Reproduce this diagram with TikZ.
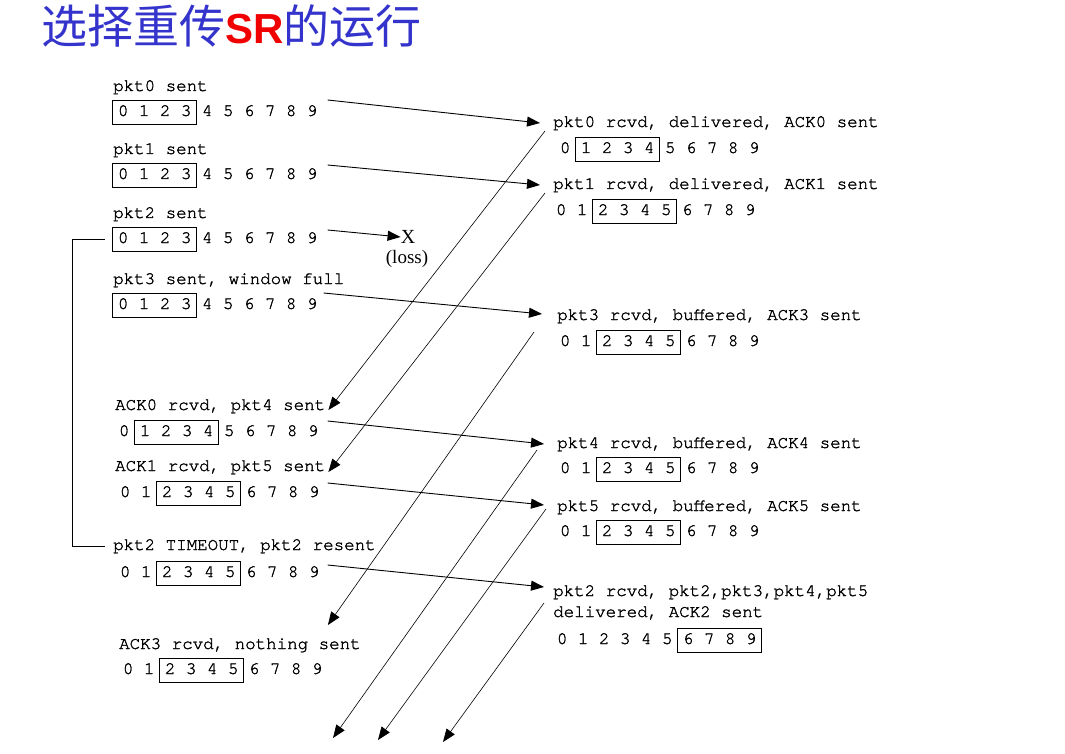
\documentclass[tikz,border=0pt]{standalone}
\usepackage{fontspec}
\usetikzlibrary{arrows.meta}
\newfontfamily\cjk{Noto Sans CJK SC}
\newfontfamily\titlesans{Liberation Sans}
\newfontfamily\serifnt{Liberation Serif}
\newfontfamily\monofnt[FakeBold=1.6]{texgyrecursor-regular.otf}
\definecolor{titleblue}{RGB}{52,52,204}
\definecolor{titlered}{RGB}{240,0,0}

\tikzset{
  evt/.style={anchor=west, inner sep=0pt, text height=11pt, text depth=3pt,
    font=\monofnt\fontsize{17.5}{20}\selectfont},
  pkt/.style={-{Triangle[length=13pt,width=10pt]}, line width=0.9pt},
  ack/.style={-{Triangle[length=13pt,width=10pt]}, line width=0.6pt},
}

% window row: name, x, y, first, last
\newcommand{\winrow}[5]{%
  \node[evt] (#1) at (#2,#3) {0 1 2 3 4 5 6 7 8 9};
  \draw[line width=0.8pt] ({#2+21*#4-5},{#3-12}) rectangle ({#2+21*#5+15.5},{#3+12});
}

\begin{document}
\begin{tikzpicture}[x=1pt, y=-1pt]
  \useasboundingbox (0,0) rectangle (1065,754);

  \node[anchor=base west, inner sep=0pt] (title) at (41,44)
    {\cjk\fontsize{46}{50}\selectfont\color{titleblue}选择重传{\titlesans\bfseries\fontsize{42}{46}\selectfont\color{titlered}SR}的运行};

  % sender
  \node[evt] (s0) at (113,87) {pkt0 sent};
  \winrow{w0}{117.75}{112}{0}{3}
  \node[evt] (s1) at (113,150) {pkt1 sent};
  \winrow{w1}{117.75}{175}{0}{3}
  \node[evt] (s2) at (113,214) {pkt2 sent};
  \winrow{w2}{117.75}{239}{0}{3}
  \node[evt] (s3) at (113,280) {pkt3 sent, window full};
  \winrow{w3}{117.75}{305}{0}{3}
  \node[evt] (s4) at (115,406) {ACK0 rcvd, pkt4 sent};
  \winrow{w4}{118.75}{432}{1}{4}
  \node[evt] (s5) at (115,467) {ACK1 rcvd, pkt5 sent};
  \winrow{w5}{119.75}{493}{2}{5}
  \node[evt] (s6) at (113,546) {pkt2 TIMEOUT, pkt2 resent};
  \winrow{w6}{119.75}{573}{2}{5}
  \node[evt] (s7) at (119,645) {ACK3 rcvd, nothing sent};
  \winrow{w7}{122.75}{670}{2}{5}

  % receiver
  \node[evt] (r0) at (553,123) {pkt0 rcvd, delivered, ACK0 sent};
  \winrow{v0}{559.75}{149}{1}{4}
  \node[evt] (r1) at (553,185) {pkt1 rcvd, delivered, ACK1 sent};
  \winrow{v1}{555.75}{211}{2}{5}
  \node[evt] (r3) at (557,316) {pkt3 rcvd, buffered, ACK3 sent};
  \winrow{v3}{559.75}{342}{2}{5}
  \node[evt] (r4) at (557,444) {pkt4 rcvd, buffered, ACK4 sent};
  \winrow{v4}{559.75}{469}{2}{5}
  \node[evt] (r5) at (557,507) {pkt5 rcvd, buffered, ACK5 sent};
  \winrow{v5}{559.75}{532}{2}{5}
  \node[evt] (r2) at (553,592) {pkt2 rcvd, pkt2,pkt3,pkt4,pkt5};
  \node[evt] (r2b) at (553,613) {delivered, ACK2 sent};
  \winrow{v2}{556.75}{640}{6}{9}

  % lost packet
  \node[inner sep=0pt, font=\serifnt\fontsize{20}{22}\selectfont] (x2) at (408,237) {X};
  \node[inner sep=0pt, font=\serifnt\fontsize{19}{22}\selectfont] (loss) at (407,259) {(loss)};

  % timeout bracket
  \draw[line width=0.8pt] ([xshift=-13pt]w2.west) -- ++(-32,0) |- ([xshift=-8pt]s6.west);

  % packets
  \draw[pkt] ([xshift=10pt,yshift=12pt]w0.east) -- ([xshift=-13pt]r0.west);
  \draw[pkt] ([xshift=10pt,yshift=10pt]w1.east) -- ([xshift=-13pt]r1.west);
  \draw[pkt] ([xshift=10pt,yshift=9pt]w2.east) -- (x2.west);
  \draw[pkt] ([xshift=6pt,yshift=12pt]w3.east) -- ([xshift=-15pt,yshift=2pt]r3.west);
  \draw[pkt] ([xshift=9pt,yshift=11pt]w4.east) -- ([xshift=-13pt]r4.west);
  \draw[pkt] ([xshift=8pt,yshift=10pt]w5.east) -- ([xshift=-13pt,yshift=2pt]r5.west);
  \draw[pkt] ([xshift=8pt,yshift=8pt]w6.east) -- ([xshift=-9pt,yshift=5pt]r2.west);

  % acks
  \coordinate (a4) at (333,738);
  \coordinate (a5) at (378,740);
  \coordinate (a2) at (443,742);
  \draw[ack] ([xshift=-8pt,yshift=-8pt]r0.west) -- ([xshift=3pt,yshift=-4pt]s4.east);
  \draw[ack] ([xshift=-8pt,yshift=-8pt]r1.west) -- ([xshift=3pt,yshift=-5pt]s5.east);
  \draw[ack] ([xshift=-23pt,yshift=-16pt]r3.west) -- ([xshift=-33pt,yshift=20pt]s7.east);
  \draw[ack] ([xshift=-20pt,yshift=-6pt]r4.west) -- (a4);
  \draw[ack] ([xshift=-11pt,yshift=-2pt]r5.west) -- (a5);
  \draw[ack] ([xshift=-9pt,yshift=-11pt]r2.west) -- (a2);
\end{tikzpicture}
\end{document}
